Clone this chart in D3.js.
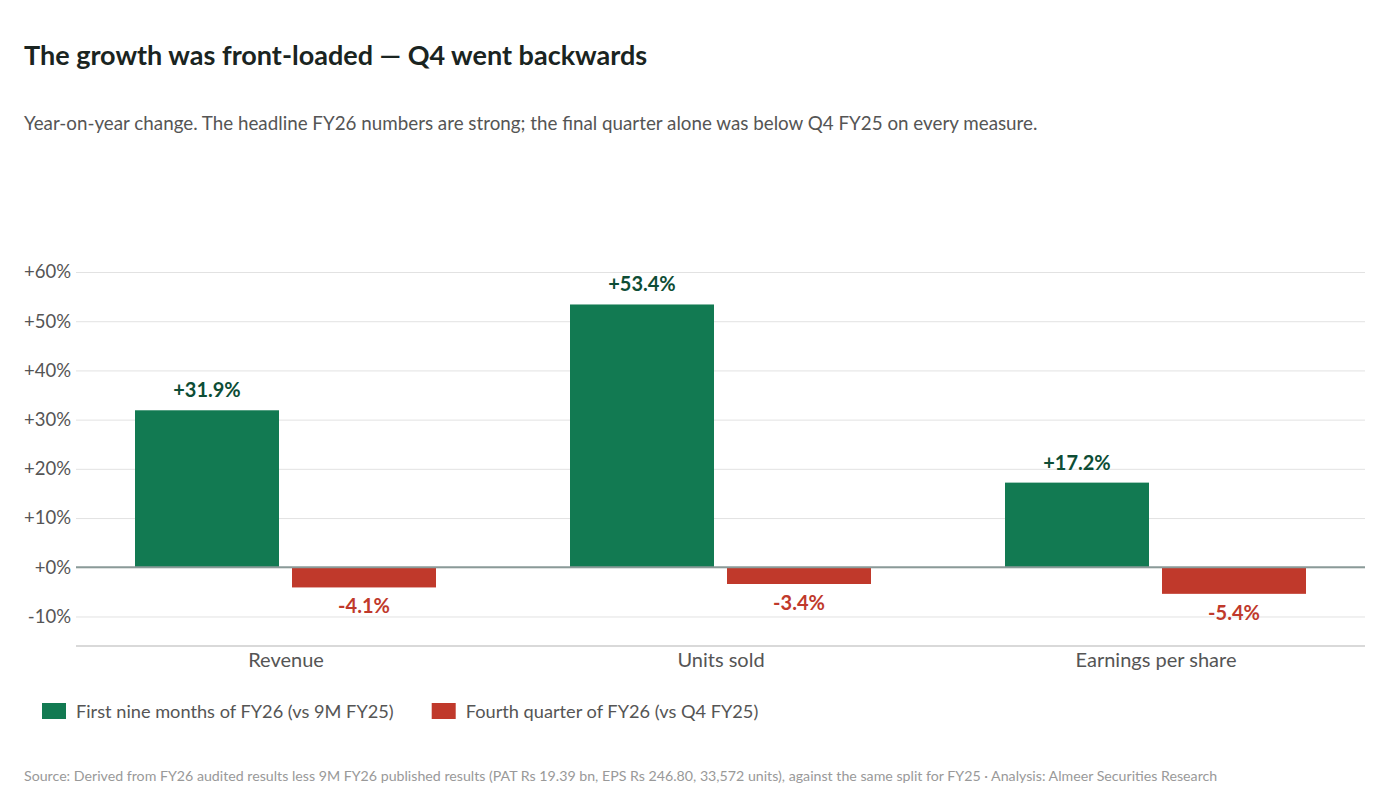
<!DOCTYPE html>
<html><head><meta charset="utf-8">
<script src="https://cdn.jsdelivr.net/npm/d3@7/dist/d3.min.js"></script>
<style>body{margin:0;background:#fff;font-family:Lato,sans-serif}</style>
</head><body><svg id="c" width="1400" height="807"></svg>
<script>
const categories=["Revenue","Units sold","Earnings per share"];
const series=["First nine months of FY26 (vs 9M FY25)","Fourth quarter of FY26 (vs Q4 FY25)"];
const nineMonths=[31.9,53.4,17.2];
const fourthQuarter=[-4.1,-3.4,-5.4];
const yTicks=[-10,0,10,20,30,40,50,60];
const colors=["#127a52","#c0392b"];
const labelColors=["#0d4d35","#c0392b"];

const svg=d3.select("#c");
const L=76,R=1365,T=272,B=646;
const y=d3.scaleLinear().domain([-16,60]).range([B,T]);
const x=d3.scaleBand().domain(categories).range([68.5,1373.5]);
const xs=d3.scaleBand().domain([0,1]).range([66.5,367.5]).paddingInner(13/157);

svg.append("text").attr("x",24).attr("y",65).attr("font-size",27).attr("font-weight",700).attr("fill","#1a2421").text("The growth was front-loaded — Q4 went backwards");
svg.append("text").attr("x",24).attr("y",130).attr("font-size",18.8).attr("fill","#555").text("Year-on-year change. The headline FY26 numbers are strong; the final quarter alone was below Q4 FY25 on every measure.");

const ya=svg.append("g").attr("transform",`translate(${L},0)`).call(d3.axisLeft(y).tickValues(yTicks).tickSize(L-R).tickFormat(d=>(d<0?"":"+")+d+"%"));
ya.select(".domain").remove();
ya.selectAll(".tick line").attr("stroke","#e2e2e2");
ya.selectAll(".tick text").attr("x",-5).attr("font-size",18.5).attr("fill","#555").attr("font-family","Lato");

const data=categories.map((c,i)=>[nineMonths[i],fourthQuarter[i]]);
const g=svg.append("g");
categories.forEach((c,i)=>{
  data[i].forEach((v,j)=>{
    const bx=x(c)+xs(j);
    g.append("rect").attr("x",bx).attr("width",xs.bandwidth()).attr("y",y(Math.max(0,v))).attr("height",Math.abs(y(v)-y(0))).attr("fill",colors[j]);
    g.append("text").attr("x",bx+xs.bandwidth()/2).attr("y",v>=0?y(v)-13:y(v)+26).attr("text-anchor","middle").attr("font-size",20).attr("font-weight",700).attr("fill",labelColors[j]).text((v>=0?"+":"")+v.toFixed(1)+"%");
  });
});
svg.append("line").attr("x1",L).attr("x2",R).attr("y1",y(0)).attr("y2",y(0)).attr("stroke","#8a9a98").attr("stroke-width",2);
const xa=svg.append("g").attr("transform",`translate(0,${B})`).call(d3.axisBottom(x).tickSize(0));
xa.select(".domain").attr("stroke","#ccc").attr("stroke-width",1.5).attr("d",`M${L},0H${R}`);
xa.selectAll("text").attr("dy",18).attr("font-size",20).attr("fill","#555").attr("font-family","Lato");

const lg=svg.append("g").attr("transform","translate(42,711)");
let lx=0;
series.forEach((s,j)=>{
  lg.append("rect").attr("x",lx).attr("y",-8).attr("width",24).attr("height",16).attr("fill",colors[j]);
  const t=lg.append("text").attr("x",lx+34).attr("y",7).attr("font-size",18.2).attr("fill","#555").text(s);
  lx+=t.node().getComputedTextLength()+34+38;
});
svg.append("text").attr("x",24).attr("y",781).attr("font-size",14.2).attr("fill","#999").text("Source: Derived from FY26 audited results less 9M FY26 published results (PAT Rs 19.39 bn, EPS Rs 246.80, 33,572 units), against the same split for FY25  ·  Analysis: Almeer Securities Research");
</script></body></html>
